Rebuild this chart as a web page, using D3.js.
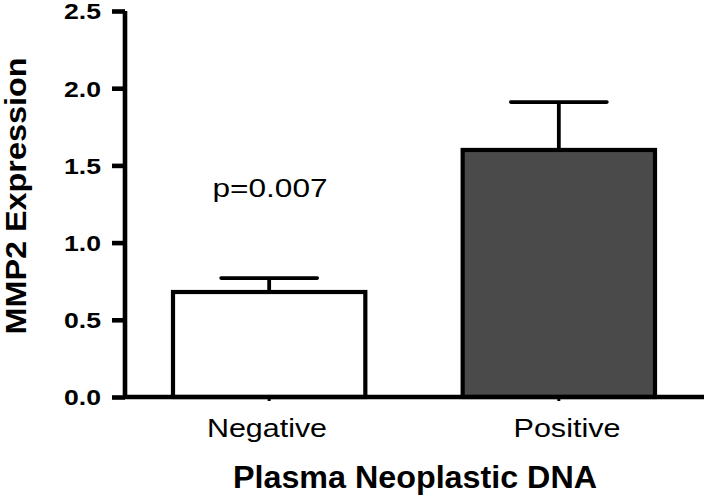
<!DOCTYPE html>
<html>
<head>
<meta charset="utf-8">
<script src="https://cdn.jsdelivr.net/npm/d3@7"></script>
<style>
  html, body { margin: 0; padding: 0; background: #fff; }
  svg { display: block; }
  text { font-family: "Liberation Sans", Arial, Helvetica, sans-serif; }
</style>
</head>
<body>
<svg id="chart" width="707" height="497"></svg>
<script>
const categories = ["Negative", "Positive"];
const means = [0.68, 1.60];
const errors = [0.09, 0.31];
const fills = ["#ffffff", "#4a4a4a"];
const yTicks = [0.0, 0.5, 1.0, 1.5, 2.0, 2.5];
const yLabel = "MMP2 Expression";
const xLabel = "Plasma Neoplastic DNA";
const annotation = "p=0.007";

const svg = d3.select("#chart");

const x = d3.scaleBand().domain(categories).range([173, 655]).paddingInner(0.336).paddingOuter(0);
const y = d3.scaleLinear().domain([0, 2.5]).range([397, 11]);

// Bars
svg.selectAll("rect.bar").data(categories).join("rect")
  .attr("class", "bar")
  .attr("x", d => x(d))
  .attr("y", (d, i) => y(means[i]))
  .attr("width", x.bandwidth())
  .attr("height", (d, i) => y(0) - y(means[i]))
  .attr("fill", (d, i) => fills[i])
  .attr("stroke", "#000")
  .attr("stroke-width", 4.2);

// Error bars (upper only)
const err = svg.append("g");
categories.forEach((c, i) => {
  const cx = x(c) + x.bandwidth() / 2;
  const half = x.bandwidth() / 4;
  err.append("line").attr("x1", cx).attr("x2", cx)
    .attr("y1", y(means[i])).attr("y2", y(means[i] + errors[i]))
    .attr("stroke", "#000").attr("stroke-width", 3.8);
  err.append("line").attr("x1", cx - half).attr("x2", cx + half)
    .attr("y1", y(means[i] + errors[i])).attr("y2", y(means[i] + errors[i]))
    .attr("stroke", "#000").attr("stroke-width", 3.6).attr("stroke-linecap", "round");
});

// Y axis
const yAxis = svg.append("g").attr("transform", "translate(125,0)")
  .call(d3.axisLeft(y).tickValues(yTicks).tickFormat(d3.format(".1f")).tickSize(13).tickPadding(11));
yAxis.select(".domain").attr("stroke", "#000").attr("stroke-width", 4.6)
  .attr("d", `M0,${y(2.5)}V${y(0)}`);
yAxis.selectAll(".tick line").attr("stroke", "#000").attr("stroke-width", 4.6);
yAxis.selectAll(".tick text")
  .attr("font-size", 22).attr("font-weight", "bold").attr("fill", "#000")
  .attr("font-family", "'Liberation Sans', Arial, sans-serif")
  .attr("dy", "0.36em")
  .attr("textLength", 37).attr("lengthAdjust", "spacingAndGlyphs");

// X axis
const xAxis = svg.append("g").attr("transform", `translate(0,${y(0)})`)
  .call(d3.axisBottom(x).tickSize(4).tickPadding(18));
xAxis.select(".domain").attr("stroke", "#000").attr("stroke-width", 4.3)
  .attr("d", "M123,0H704");
xAxis.selectAll(".tick line").attr("stroke", "#000").attr("stroke-width", 3);
xAxis.selectAll(".tick text").remove();

// Category labels
categories.forEach((c, i) => {
  const cx = [267, 567][i];
  svg.append("text").attr("x", cx).attr("y", 437)
    .attr("text-anchor", "middle").attr("font-size", 26.5).attr("fill", "#000")
    .attr("textLength", i === 0 ? 120 : 107).attr("lengthAdjust", "spacingAndGlyphs")
    .text(c);
});

// Annotation
svg.append("text").attr("x", 270).attr("y", 197)
  .attr("text-anchor", "middle").attr("font-size", 26.5).attr("fill", "#000")
  .attr("textLength", 115).attr("lengthAdjust", "spacingAndGlyphs")
  .text(annotation);

// Axis titles
svg.append("text").attr("x", 415).attr("y", 488)
  .attr("text-anchor", "middle").attr("font-size", 31).attr("font-weight", "bold")
  .attr("textLength", 364).attr("lengthAdjust", "spacingAndGlyphs")
  .text(xLabel);

svg.append("text").attr("transform", "translate(26,196) rotate(-90)")
  .attr("text-anchor", "middle").attr("font-size", 30).attr("font-weight", "bold")
  .attr("textLength", 277).attr("lengthAdjust", "spacingAndGlyphs")
  .text(yLabel);
</script>
</body>
</html>
